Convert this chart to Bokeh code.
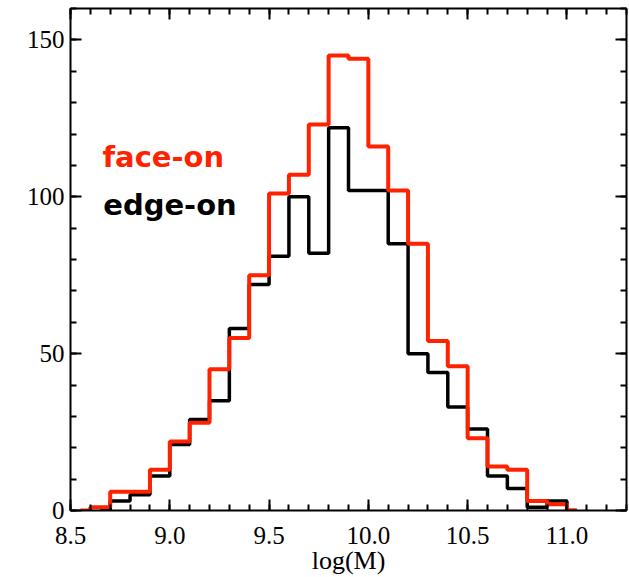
from bokeh.plotting import figure
from bokeh.models import Range1d, LinearAxis, SingleIntervalTicker, Label, PrintfTickFormatter
from bokeh.embed import file_html
from bokeh.resources import INLINE

# centros dos bins (histograma em degraus, estilo psym=10)
centros_face = [8.55, 8.65, 8.75, 8.85, 8.95, 9.05, 9.15, 9.25, 9.35, 9.45, 9.55, 9.65, 9.75,
                9.85, 9.95, 10.05, 10.15, 10.25, 10.35, 10.45, 10.55, 10.65, 10.75, 10.85, 10.95, 11.05]
contagem_face = [0, 1, 6, 6, 13, 22, 28, 45, 55, 75, 101, 107, 123,
                 145, 144, 116, 102, 85, 54, 46, 23, 14, 13, 3, 2, 0]

centros_edge = [8.65, 8.75, 8.85, 8.95, 9.05, 9.15, 9.25, 9.35, 9.45, 9.55, 9.65, 9.75,
                9.85, 9.95, 10.05, 10.15, 10.25, 10.35, 10.45, 10.55, 10.65, 10.75, 10.85, 10.95, 11.05]
contagem_edge = [0, 3, 5, 11, 21, 29, 35, 58, 72, 81, 100, 82,
                 122, 102, 102, 85, 50, 44, 33, 26, 11, 7, 1, 3, 0]

vermelho = "#ff2200"
fonte_eixo = "Liberation Serif"

p = figure(width=629, height=577, x_range=Range1d(8.5, 11.3), y_range=Range1d(0, 160),
           output_backend="svg", toolbar_location=None, x_axis_type=None, y_axis_type=None,
           min_border_left=70, min_border_right=3, min_border_top=8, min_border_bottom=67)
p.xgrid.visible = False
p.ygrid.visible = False
p.outline_line_color = None
p.background_fill_color = "white"

ticker_x = SingleIntervalTicker(interval=0.5, num_minor_ticks=5)
ticker_y = SingleIntervalTicker(interval=50, num_minor_ticks=5)


def estilo(eixo, com_rotulos):
    eixo.axis_line_width = 2
    eixo.axis_line_color = "black"
    eixo.major_tick_line_width = 2
    eixo.minor_tick_line_width = 2
    eixo.major_tick_in = 11
    eixo.major_tick_out = 0
    eixo.minor_tick_in = 6
    eixo.minor_tick_out = 0
    eixo.major_label_text_font = fonte_eixo
    eixo.major_label_text_font_size = "25px"
    eixo.major_label_text_color = "black"
    if not com_rotulos:
        eixo.major_label_standoff = 0
        eixo.major_label_overrides = {v: "" for v in [0, 50, 100, 150, 8.5, 9.0, 9.5, 10.0, 10.5, 11.0]}


eixo_x = LinearAxis(ticker=ticker_x, axis_label="log(M)", formatter=PrintfTickFormatter(format="%.1f"))
estilo(eixo_x, True)
eixo_x.major_label_standoff = 16
eixo_x.axis_label_standoff = -1
eixo_x.axis_label_text_font = fonte_eixo
eixo_x.axis_label_text_font_size = "26px"
eixo_x.axis_label_text_font_style = "normal"
eixo_x.axis_label_text_color = "black"
p.add_layout(eixo_x, "below")

eixo_y = LinearAxis(ticker=ticker_y)
estilo(eixo_y, True)
eixo_y.major_label_standoff = 6
p.add_layout(eixo_y, "left")

eixo_topo = LinearAxis(ticker=ticker_x)
estilo(eixo_topo, False)
p.add_layout(eixo_topo, "above")

eixo_dir = LinearAxis(ticker=ticker_y)
estilo(eixo_dir, False)
p.add_layout(eixo_dir, "right")

# histogramas
p.step(x=centros_edge, y=contagem_edge, mode="center", line_color="black", line_width=3.5)
p.step(x=centros_face, y=contagem_face, mode="center", line_color=vermelho, line_width=4)

# legenda em texto
p.add_layout(Label(x=8.661, y=112.8, text="face-on", text_color=vermelho, text_font="DejaVu Sans",
                   text_font_style="bold", text_font_size="29px", text_baseline="alphabetic"))
p.add_layout(Label(x=8.665, y=97.5, text="edge-on", text_color="black", text_font="DejaVu Sans",
                   text_font_style="bold", text_font_size="29px", text_baseline="alphabetic"))

open("out.html", "w").write(file_html(p, INLINE))
